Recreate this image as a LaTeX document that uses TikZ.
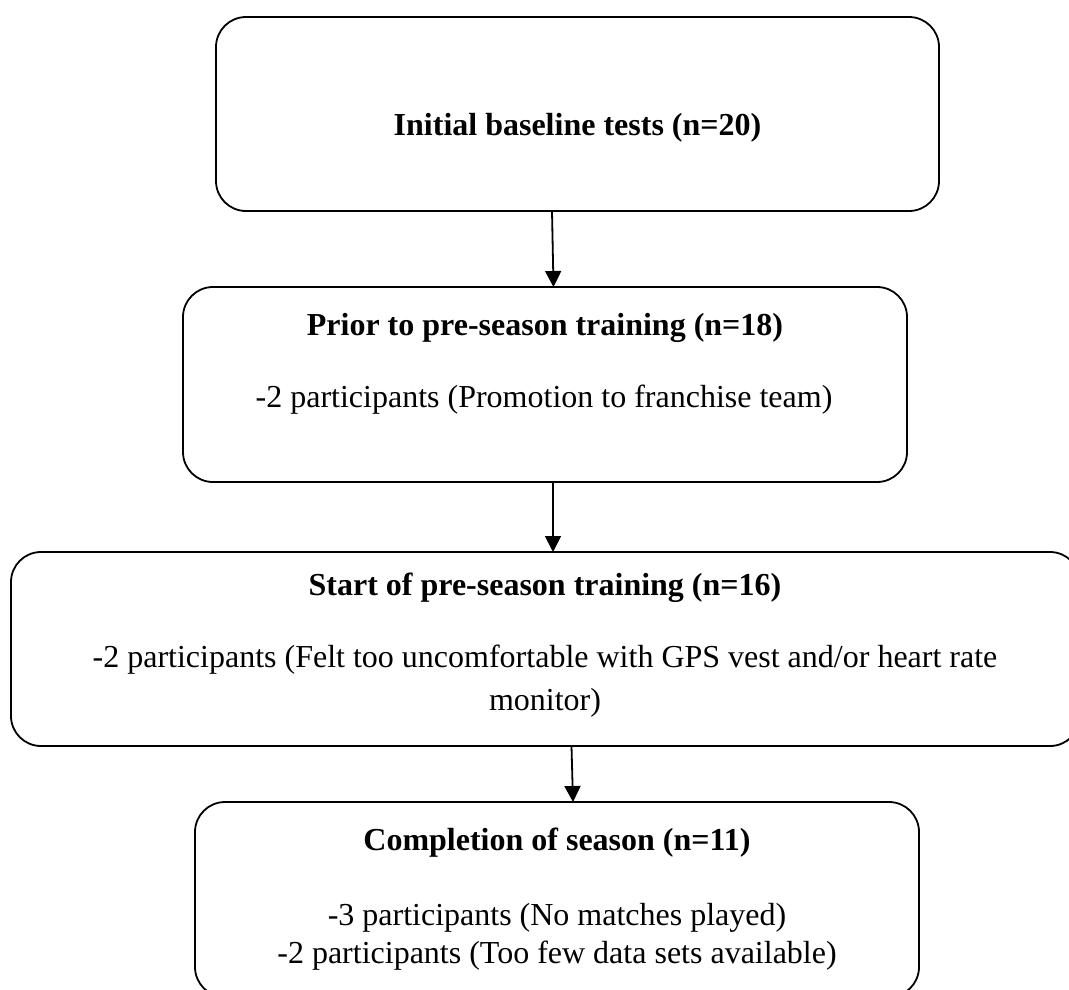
\documentclass[tikz,border=0pt]{standalone}
\usepackage{fontspec}
\setmainfont{Liberation Serif}
\usetikzlibrary{arrows.meta}
\begin{document}
\begin{tikzpicture}[x=1pt,y=-1pt,
  stagebox/.style={draw=black, line width=1.8pt, rounded corners=30pt, inner sep=0pt, outer sep=0pt},
  ttl/.style={font=\fontsize{32}{37}\selectfont\bfseries, anchor=base, inner sep=0pt},
  body/.style={font=\fontsize{32}{37}\selectfont, anchor=base, inner sep=0pt},
  arr/.style={line width=1.8pt, -{Triangle[length=16pt,width=16pt]}}]
\clip (0,0) rectangle (1069,989);
\useasboundingbox (0,0) rectangle (1069,989);
\fill[white] (0,0) rectangle (1069,989);
% boxes
\node[stagebox, minimum width=723pt, minimum height=194pt] (b1) at (577.5,114) {};
\node[stagebox, minimum width=724pt, minimum height=195pt] (b2) at (545,384.5) {};
\node[stagebox, minimum width=1069pt, minimum height=194pt] (b3) at (545.5,649) {};
\node[stagebox, minimum width=724pt, minimum height=195pt] (b4) at (557,899.5) {};
% texts
\node[ttl] (t1) at (577.5,135) {Initial baseline tests (n=20)};
\node[ttl] (t2) at (545,335) {Prior to pre-season training (n=18)};
\node[body] (t2a) at (544,407) {-2 participants (Promotion to franchise team)};
\node[ttl] (t3) at (545,595) {Start of pre-season training (n=16)};
\node[body] (t3a) at (545,667) {-2 participants (Felt too uncomfortable with GPS vest and/or heart rate};
\node[body] (t3b) at (545,710) {monitor)};
\node[ttl] (t4) at (557,850) {Completion of season (n=11)};
\node[body] (t4a) at (557,925) {-3 participants (No matches played)};
\node[body] (t4b) at (557,963) {-2 participants (Too few data sets available)};
% arrows
\draw[arr] ([xshift=-25.5pt]b1.south) -- ([xshift=8.5pt]b2.north);
\draw[arr] ([xshift=8pt]b2.south) -- ([xshift=7.5pt]b3.north);
\draw[arr] ([xshift=26pt]b3.south) -- ([xshift=16pt]b4.north);
\end{tikzpicture}
\end{document}
